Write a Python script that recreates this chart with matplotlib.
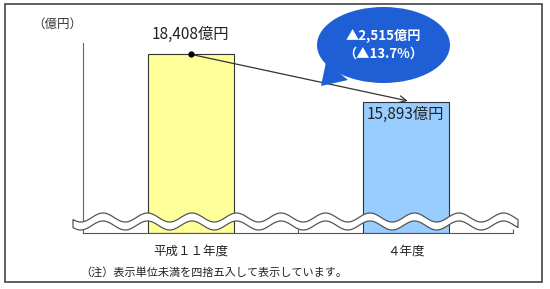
import numpy as np
import matplotlib.pyplot as plt
from matplotlib.patches import Rectangle, Ellipse, Polygon

plt.rcParams['font.family'] = ['Noto Sans CJK JP', 'DejaVu Sans']

# data
categories = ['平成１１年度', '４年度']
values = [18408, 15893]
value_labels = ['18,408億円', '15,893億円']
bar_colors = ['#FFFF99', '#99CCFF']
diff_text = '▲2,515億円\n（▲13.7%）'
unit_label = '（億円）'
note = '（注）表示単位未満を四捨五入して表示しています。'

W, H = 550, 289
fig = plt.figure(figsize=(W / 100, H / 100), dpi=100)


def px(x, y):
    return (x / W, 1 - y / H)


# outer frame
fig.add_artist(Rectangle(px(5, 282), 537 / W, 278 / H, transform=fig.transFigure,
                         fill=False, edgecolor='#444444', lw=1.2))

ax = fig.add_axes([83 / W, 1 - 233 / H, 430 / W, 190 / H])
ax.set_xlim(-0.5, 1.5)
ax.set_ylim(9000, 19000)

x = np.arange(len(categories))
ax.bar(x, [v - 9000 for v in values], bottom=9000, width=0.4,
       color=bar_colors, edgecolor='#333333', lw=0.8, zorder=2)

for s in ['top', 'right']:
    ax.spines[s].set_visible(False)
ax.spines['left'].set_color('#666666')
ax.spines['bottom'].set_color('#555555')
ax.set_yticks([])
ax.set_xticks([0.5, 1.5])
ax.set_xticklabels([])
ax.tick_params(axis='x', direction='in', length=3, color='#555555')

# value labels
ax.annotate(value_labels[0], (x[0], values[0]), xytext=(0, 8), textcoords='offset points',
            ha='center', va='bottom', fontsize=11, color='#222222')
ax.annotate(value_labels[1], (x[1], values[1]), xytext=(0, -9), textcoords='offset points',
            ha='center', va='center', fontsize=11, color='#222222')

# change arrow
ax.plot([x[0]], [values[0]], 'o', color='black', ms=3.5, zorder=4, clip_on=False)
ax.annotate('', xy=(x[1] + 0.01, values[1] + 60), xytext=(x[0], values[0]),
            arrowprops=dict(arrowstyle='->', color='#333333', lw=0.9,
                            mutation_scale=12, shrinkA=0, shrinkB=0))

# category labels
for xi, c in zip(x, categories):
    ax.annotate(c, (xi, 9000), xytext=(0, -13), textcoords='offset points',
                ha='center', va='center', fontsize=9, color='#222222')

# bubble
blue = '#1E5FD6'
ex, ey = px(383.5, 45)
fig.add_artist(Ellipse((ex, ey), 133 / W, 76 / H, transform=fig.transFigure,
                       facecolor=blue, edgecolor='none'))
fig.add_artist(Polygon([px(326, 62), px(321, 86), px(348, 80)], transform=fig.transFigure,
                       facecolor=blue, edgecolor='none'))
fig.text(ex, ey, diff_text, ha='center', va='center', color='white', fontsize=9.5,
         fontweight='bold', linespacing=1.3)

fig.text(*px(57, 24), unit_label, ha='center', va='center', fontsize=9, color='#333333')
fig.text(*px(80, 272), note, ha='left', va='center', fontsize=8, color='#222222')

# wavy break band
wx = np.linspace(73, 518, 600)
yu = 217.5 - 4.5 * np.cos(2 * np.pi * (wx - 103) / 44.5)
yl = yu + 8
band = np.vstack([np.column_stack([wx, yu]), np.column_stack([wx[::-1], yl[::-1]])])
band_f = [px(a, b) for a, b in band]
fig.add_artist(Polygon(band_f, closed=True, transform=fig.transFigure,
                       facecolor='white', edgecolor='#555555', lw=0.9, zorder=5))

fig.savefig('out.png', dpi=100)
